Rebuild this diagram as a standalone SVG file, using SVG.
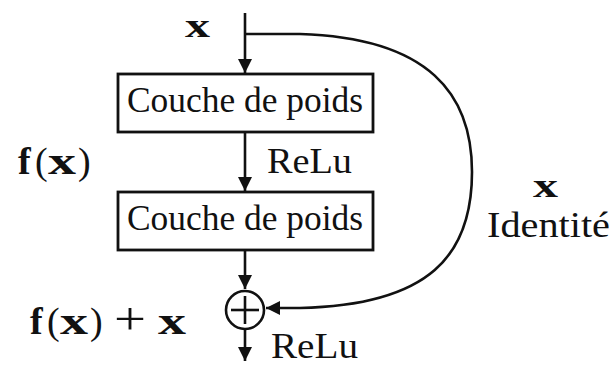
<svg xmlns="http://www.w3.org/2000/svg" width="614" height="365" viewBox="0 0 614 365">
<style>
text{font-family:"Liberation Serif","DejaVu Serif",serif;fill:#111}
.b{font-weight:bold}
.box{fill:#fff;stroke:#111;stroke-width:2.8}
.ln{fill:none;stroke:#111;stroke-width:2.6}
</style>
<defs>
<marker id="ah" viewBox="0 0 10 10" refX="10" refY="5" markerWidth="5.5" markerHeight="5.5" markerUnits="strokeWidth" orient="auto"><path d="M0,0 L10,5 L0,10 z" fill="#111"/></marker>
</defs>
<rect width="614" height="365" fill="#fff"/>
<g id="connectors">
<line class="ln" x1="245" y1="13" x2="245" y2="73" marker-end="url(#ah)"/>
<line class="ln" x1="245" y1="133" x2="245" y2="191" marker-end="url(#ah)"/>
<line class="ln" x1="245" y1="251" x2="245" y2="289" marker-end="url(#ah)"/>
<line class="ln" x1="245" y1="330" x2="245" y2="361" marker-end="url(#ah)"/>
<path class="ln" d="M245 34 L300 34 C430 38 472 95 472 172 C472 255 430 305 300 308 L266 308" marker-end="url(#ah)"/>
</g>
<g id="input"><text class="b" x="185" y="37" font-size="34" textLength="25" lengthAdjust="spacingAndGlyphs">x</text></g>
<g id="layer1">
<rect class="box" x="118" y="74" width="255" height="58"/>
<text x="127" y="112" font-size="35" textLength="236" lengthAdjust="spacingAndGlyphs">Couche de poids</text>
</g>
<g id="relu1"><text x="267" y="173" font-size="35" textLength="85" lengthAdjust="spacingAndGlyphs">ReLu</text></g>
<g id="fx" font-size="38">
<text class="b" x="18" y="174">f</text>
<text x="35" y="174">(</text>
<text class="b" x="48" y="174" textLength="28" lengthAdjust="spacingAndGlyphs">x</text>
<text x="78" y="174">)</text>
</g>
<g id="layer2">
<rect class="box" x="118" y="192" width="255" height="58"/>
<text x="127" y="230" font-size="35" textLength="236" lengthAdjust="spacingAndGlyphs">Couche de poids</text>
</g>
<g id="sum">
<circle class="ln" cx="245" cy="310" r="19"/>
<line class="ln" x1="231" y1="310" x2="259" y2="310"/>
<line class="ln" x1="245" y1="296" x2="245" y2="324"/>
</g>
<g id="fxplusx" font-size="38">
<text class="b" x="30" y="334">f</text>
<text x="47" y="334">(</text>
<text class="b" x="60" y="334" textLength="28" lengthAdjust="spacingAndGlyphs">x</text>
<text x="90" y="334">)</text>
<text x="114" y="334" font-size="46" textLength="32" lengthAdjust="spacingAndGlyphs">+</text>
<text class="b" x="158" y="334" textLength="28" lengthAdjust="spacingAndGlyphs">x</text>
</g>
<g id="relu2"><text x="271" y="358" font-size="35" textLength="87" lengthAdjust="spacingAndGlyphs">ReLu</text></g>
<g id="identity">
<text class="b" x="533" y="197" font-size="34" textLength="25" lengthAdjust="spacingAndGlyphs">x</text>
<text x="487" y="237" font-size="36" textLength="123" lengthAdjust="spacingAndGlyphs">Identité</text>
</g>
</svg>
